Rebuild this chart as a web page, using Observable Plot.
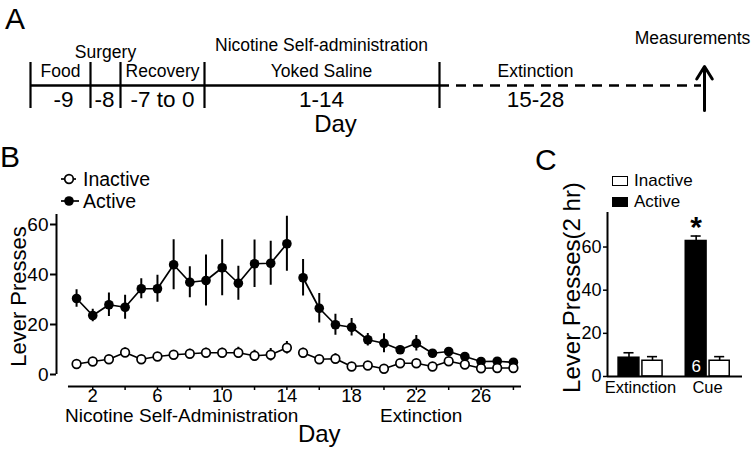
<!DOCTYPE html>
<html><head><meta charset="utf-8">
<script src="https://cdn.jsdelivr.net/npm/d3@7"></script>
<script src="https://cdn.jsdelivr.net/npm/@observablehq/plot@0.6"></script>
<style>
body{margin:0;background:#fff;}
#fig{position:relative;width:756px;height:453px;overflow:hidden;font-family:"Liberation Sans",Arial,sans-serif;color:#000;background:#fff;}
#fig > *{position:absolute;}
.plabel{font-size:30px;line-height:30px;}
.leg{font-size:19.5px;line-height:20px;white-space:nowrap;}
</style></head><body><div id="fig"></div>
<script>
// ---------- DATA ----------
// Panel A: timeline phases
const phaseNames = ["Food", "", "Recovery", "Yoked Saline", "Extinction"];
const phaseTopNames = ["", "Surgery", "", "Nicotine Self-administration", ""];
const phaseDays = ["-9", "-8", "-7 to 0", "1-14", "15-28"];
const endLabel = "Measurements";
const timelineAxisLabel = "Day";

// Panel B: lever presses per day
const days = [1,2,3,4,5,6,7,8,9,10,11,12,13,14,15,16,17,18,19,20,21,22,23,24,25,26,27,28];
const activeMean = [30.4,23.6,27.9,26.9,34.3,34.3,43.9,36.9,37.6,42.7,36.5,44.3,44.5,52.3,38.7,26.5,19.9,18.9,13.9,12.5,9.9,12.5,8.5,9.2,7.2,5.2,5.3,4.9];
const activeSem  = [3.5,2.5,4.7,4.8,4.0,5.4,10.0,6.2,10.2,11.2,6.8,9.5,8.8,11.0,7.3,5.9,4.2,3.5,2.5,3.8,1.5,3.1,1.2,1.2,1.2,1.0,1.0,0.8];
const inactiveMean = [4.2,5.2,6.1,8.8,6.1,7.2,7.9,8.3,8.7,8.7,8.7,7.5,7.9,10.7,8.7,6.1,6.3,3.2,3.6,2.3,4.5,4.5,3.2,5.3,4.0,2.5,2.6,2.6];
const inactiveSem  = [0.8,0.8,1.0,1.8,1.0,1.3,1.2,1.8,1.8,1.8,2.2,2.2,2.5,2.5,1.8,1.0,2.0,0.8,0.8,0.8,0.8,0.8,0.8,1.2,0.8,0.8,0.8,0.8];
const bTickDays = [2,4,6,8,10,12,14,16,18,20,22,24,26,28];
const bLabeledDays = [2,6,10,14,18,22,26];
const bYTicks = [0,20,40,60];
const bPhaseLabels = ["Nicotine Self-Administration", "Extinction"];
const bPhaseCenters = [7.5, 22.3];
const bLegend = ["Inactive", "Active"];

// Panel C: 2-hr session bars
const cGroups = ["Extinction", "Cue"];
const cActive = [8.7, 62.8];
const cActiveSem = [2.3, 2.3];
const cInactive = [7.3, 7.3];
const cInactiveSem = [1.9, 1.9];
const cYTicks = [0,20,40,60];
const cNLabel = ["6"];
const cSigLabel = ["*"];
const cLegend = ["Inactive", "Active"];

// ---------- LAYOUT ----------
const fig = d3.select("#fig");
const font = "Liberation Sans, Arial, sans-serif";
const baseStyle = {fontFamily: font, color: "black", background: "transparent", overflow: "visible"};

// ---------- PANEL A ----------
const aBounds = [30, 90, 120, 204, 439];
const aCenters = [60, 105, 162, 321, 535];
const aDayCenters = [63, 104, 162, 321, 535];
const aArrowX = 704, aLineY = 85;
const phases = phaseNames.map((n, i) => ({name: n, top: phaseTopNames[i], days: phaseDays[i], cx: aCenters[i], dx: aDayCenters[i]}));
const plotA = Plot.plot({
  width: 756, height: 140, margin: 0,
  x: {type: "identity", axis: null}, y: {type: "identity", axis: null},
  style: baseStyle,
  marks: [
    Plot.ruleY([aLineY], {x1: aBounds[0], x2: aBounds[4], strokeWidth: 2.5}),
    Plot.ruleY([aLineY], {x1: aBounds[4], x2: aArrowX - 3, strokeWidth: 2.5, strokeDasharray: "10,7"}),
    Plot.ruleX(aBounds, {y1: 62, y2: 108, strokeWidth: 2.2}),
    Plot.arrow([0], {x1: aArrowX, x2: aArrowX, y1: 110, y2: 66, strokeWidth: 3, headLength: 10, headAngle: 64}),
    Plot.text(phases, {x: "cx", y: () => 71, text: "name", fontSize: 17.5}),
    Plot.text(phases.filter(p => p.top === "Surgery"), {x: "cx", y: () => 52, text: "top", fontSize: 17.5}),
    Plot.text(phases.filter(p => p.top && p.top !== "Surgery"), {x: "cx", y: () => 45, text: "top", fontSize: 17.5}),
    Plot.text(phases, {x: "dx", y: () => 99, text: "days", fontSize: 22.5}),
    Plot.text([endLabel], {x: () => 692, y: () => 38, fontSize: 17.5}),
    Plot.text([timelineAxisLabel], {x: () => 335, y: () => 124, fontSize: 24})
  ]
});
fig.append(() => plotA).style("left", "0px").style("top", "0px");

// ---------- PANEL B ----------
const activeRows = days.map((d, i) => ({day: d, m: activeMean[i], s: activeSem[i], phase: d <= 14 ? "sa" : "ext"}));
const inactiveRows = days.map((d, i) => ({day: d, m: inactiveMean[i], s: inactiveSem[i], phase: d <= 14 ? "sa" : "ext"}));
const bX0 = -0.24, bX1 = 28.5, bY0 = -4.8, bY1 = 64;
const plotB = Plot.plot({
  width: 535, height: 313, marginLeft: 56, marginRight: 14, marginTop: 74, marginBottom: 67,
  x: {domain: [bX0, bX1]}, y: {domain: [bY0, bY1]},
  style: baseStyle,
  marks: [
    Plot.ruleX([bX0], {y1: 0, y2: bY1, strokeWidth: 2}),
    Plot.ruleY([bY0], {x1: 0.5, x2: bX1, strokeWidth: 2}),
    Plot.axisY({ticks: bYTicks, tickSize: 6, tickPadding: 2, label: null, fontSize: 19, strokeWidth: 2}),
    Plot.axisX({ticks: bTickDays, tickSize: 4, tickPadding: -2, label: null, fontSize: 18.5, strokeWidth: 1.5,
      tickFormat: d => bLabeledDays.includes(d) ? String(d) : ""}),
    Plot.ruleX(activeRows, {x: "day", y1: d => d.m - d.s, y2: d => d.m + d.s, strokeWidth: 2}),
    Plot.line(activeRows, {x: "day", y: "m", z: "phase", stroke: "black", strokeWidth: 1.7}),
    Plot.dot(activeRows, {x: "day", y: "m", r: 4.8, fill: "black", stroke: "none"}),
    Plot.ruleX(inactiveRows, {x: "day", y1: d => d.m - d.s, y2: d => d.m + d.s, strokeWidth: 2}),
    Plot.line(inactiveRows, {x: "day", y: "m", z: "phase", stroke: "black", strokeWidth: 1.7}),
    Plot.dot(inactiveRows, {x: "day", y: "m", r: 4.3, fill: "white", stroke: "black", strokeWidth: 1.7}),
    Plot.text(bPhaseLabels, {x: (d, i) => bPhaseCenters[i], frameAnchor: "bottom", lineAnchor: "middle", dy: 29, fontSize: 19}),
    Plot.text(["Day"], {x: () => 16, frameAnchor: "bottom", lineAnchor: "middle", dy: 48, fontSize: 24}),
    Plot.text(["Lever Presses"], {frameAnchor: "left", textAnchor: "middle", lineAnchor: "middle", rotate: -90, dx: -38, dy: -4, fontSize: 22})
  ]
});
fig.append(() => plotB).style("left", "0px").style("top", "140px");

// legend B
bLegend.forEach((lab, i) => {
  const cy = 179 + i * 22;
  const s = fig.append("svg").attr("width", 22).attr("height", 14)
    .style("left", "59px").style("top", (cy - 7) + "px");
  s.append("line").attr("x1", 2).attr("x2", i ? 20 : 17).attr("y1", 7).attr("y2", 7).attr("stroke", "black").attr("stroke-width", 1.7);
  s.append("circle").attr("cx", 10).attr("cy", 7).attr("r", i ? 4.8 : 4.3)
    .attr("fill", i ? "black" : "white").attr("stroke", "black").attr("stroke-width", i ? 0 : 1.7);
  fig.append("div").attr("class", "leg").style("left", "83px").style("top", (cy - 10) + "px").text(lab);
});

// ---------- PANEL C ----------
const cX0 = -0.49, cX1 = 1.52, cY1 = 76;
const barRows = [];
cGroups.forEach((g, i) => {
  barRows.push({g: i, lever: "Active", v: cActive[i], s: cActiveSem[i], a: i - 0.325, b: i - 0.015});
  barRows.push({g: i, lever: "Inactive", v: cInactive[i], s: cInactiveSem[i], a: i + 0.03, b: i + 0.33});
});
const cueActive = barRows.find(r => r.g === 1 && r.lever === "Active");
const plotC = Plot.plot({
  width: 212, height: 260, marginLeft: 67, marginRight: 10, marginTop: 72, marginBottom: 24,
  x: {domain: [cX0, cX1]}, y: {domain: [0, cY1]},
  style: baseStyle,
  marks: [
    Plot.ruleX(barRows, {x: d => (d.a + d.b) / 2, y1: "v", y2: d => d.v + d.s, strokeWidth: 1.6}),
    Plot.ruleY(barRows, {y: d => d.v + d.s, x1: d => (d.a + d.b) / 2 - 0.075, x2: d => (d.a + d.b) / 2 + 0.075, strokeWidth: 1.6}),
    Plot.rectY(barRows, {x1: "a", x2: "b", y: "v", fill: d => d.lever === "Active" ? "black" : "white", stroke: "black", strokeWidth: 1.5}),
    Plot.ruleX([cX0], {y1: 0, y2: cY1, strokeWidth: 2}),
    Plot.ruleY([0], {strokeWidth: 2}),
    Plot.axisY({ticks: cYTicks, tickSize: 4, tickPadding: 2, label: null, fontSize: 18, strokeWidth: 1.5}),
    Plot.axisX({ticks: [0, 1], tickFormat: i => cGroups[i], tickSize: 0, tickPadding: 5, label: null, fontSize: 16.5}),
    Plot.text(cNLabel, {x: () => (cueActive.a + cueActive.b) / 2, y: () => 0, dy: -10, fill: "white", fontSize: 17}),
    Plot.text(cSigLabel, {x: () => (cueActive.a + cueActive.b) / 2, y: () => cueActive.v + cueActive.s, dy: -9, fontSize: 30, fontWeight: "bold"}),
    Plot.text(["Lever Presses(2 hr)"], {frameAnchor: "left", textAnchor: "middle", lineAnchor: "middle", rotate: -90, dx: -35, dy: -7, fontSize: 24})
  ]
});
fig.append(() => plotC).style("left", "540px").style("top", "140px");

// legend C
cLegend.forEach((lab, i) => {
  const cy = 181 + i * 21;
  fig.append("div").style("left", "612px").style("top", (cy - 5) + "px")
    .style("width", "14px").style("height", "8px")
    .style("background", i ? "black" : "white").style("border", "1.5px solid black");
  fig.append("div").attr("class", "leg").style("font-size", "17px").style("left", "634px").style("top", (cy - 10) + "px").text(lab);
});

// panel letters
[["A", 5, 4], ["B", 0, 142], ["C", 535, 145]].forEach(([t, x, y]) => {
  fig.append("div").attr("class", "plabel").style("left", x + "px").style("top", y + "px").text(t);
});
</script></body></html>
